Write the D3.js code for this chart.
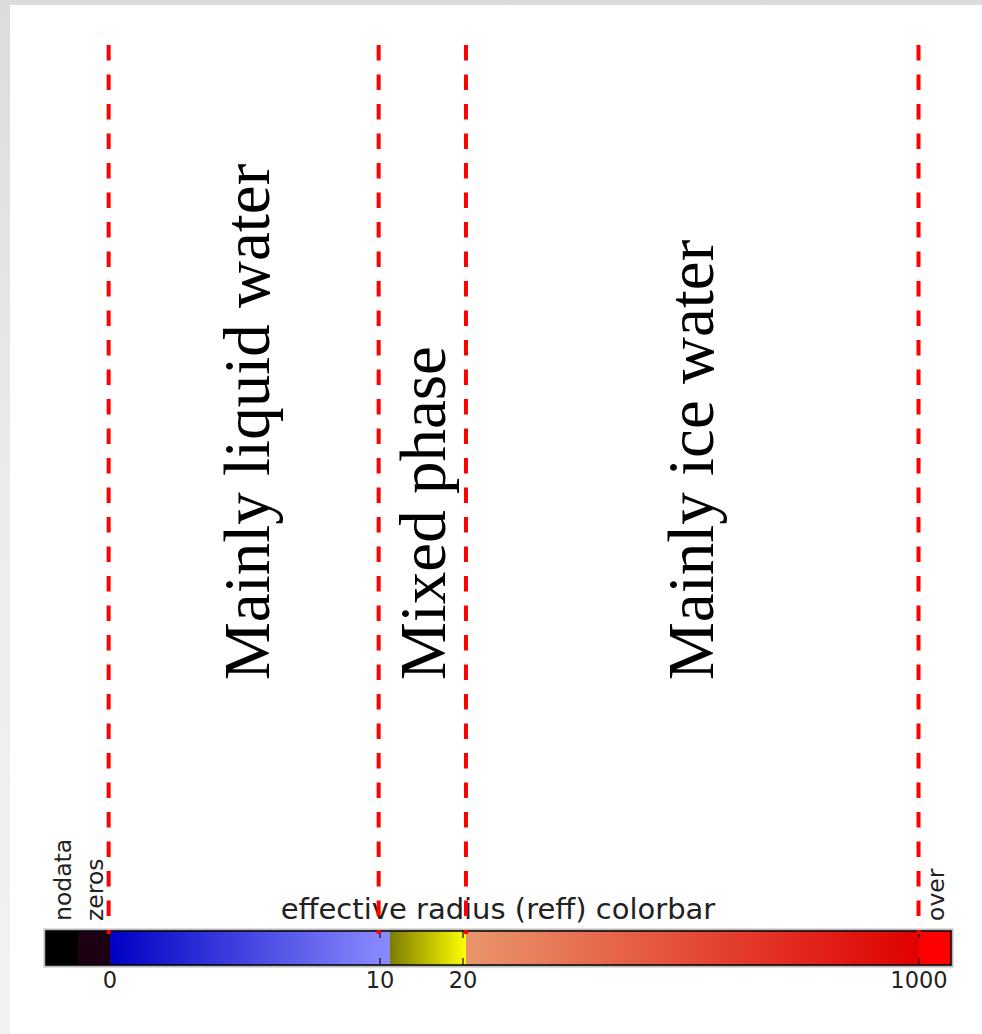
<!DOCTYPE html>
<html>
<head>
<meta charset="utf-8">
<script src="https://cdn.jsdelivr.net/npm/d3@7"></script>
<style>
    html, body { margin: 0; padding: 0; background: #e3e3e3; }
    svg { display: block; }
</style>
</head>
<body>
<svg id="chart"></svg>
<script>
// tick values on the colorbar and their labels
const tickValues = [0, 10, 20, 1000];
const tickLabels = ['0', '10', '20', '1000'];

// colour ramps between data values (value -> colour)
const segmentStarts = [0, 11.2, 26.4];
const segmentEnds = [11.2, 26.4, 1000];
const segmentFrom = ['#0000c4', '#7c7c00', '#e8966c'];
const segmentTo = ['#8c8cff', '#ffff00', '#e00000'];

// special bins drawn outside the ramp
const lowSpecials = ['nodata', 'zeros'];
const lowSpecialColors = ['#000000', '#1c0014'];
const highSpecials = ['over'];
const highSpecialColors = ['#ff0000'];

// phase boundaries (dashed red lines) and phase labels
const boundaryValues = [-0.05, 9.95, 26.4, 999];
const phaseLabels = ['Mainly liquid water', 'Mixed phase', 'Mainly ice water'];
const phaseLabelValues = [5.9, 17.8, 557];

const colorbarTitle = 'effective radius (reff) colorbar';

class ReffColorbar {
    constructor() {
        this.width = 982;
        this.height = 1034;
        this.svg = d3.select('#chart')
            .attr('width', this.width)
            .attr('height', this.height);

        this.bar = { left: 46, right: 951, top: 931, bottom: 965 };
        this.slot = 32;

        // piecewise scale, the colorbar is not linear in value
        this.x = d3.scaleLinear()
            .domain(tickValues)
            .range([110, 380, 463, 919]);

        this.draw();
    }

    draw() {
        const svg = this.svg;

        // soft gray frame round the white panel
        const defs = svg.append('defs');
        const frame = defs.append('linearGradient')
            .attr('id', 'frame')
            .attr('x1', 0).attr('y1', 0).attr('x2', 0).attr('y2', 1);
        frame.append('stop').attr('offset', '0%').attr('stop-color', '#dcdcdc');
        frame.append('stop').attr('offset', '50%').attr('stop-color', '#ececec');
        frame.append('stop').attr('offset', '100%').attr('stop-color', '#f2f2f2');

        svg.append('rect')
            .attr('width', this.width)
            .attr('height', this.height)
            .attr('fill', 'url(#frame)');
        svg.append('rect')
            .attr('x', 10).attr('y', 5)
            .attr('width', this.width - 10)
            .attr('height', this.height - 5)
            .attr('fill', '#ffffff');

        // gradients for each ramp segment
        segmentStarts.forEach((s, i) => {
            const g = defs.append('linearGradient')
                .attr('id', 'seg' + i)
                .attr('x1', 0).attr('y1', 0).attr('x2', 1).attr('y2', 0);
            g.append('stop').attr('offset', '0%').attr('stop-color', segmentFrom[i]);
            g.append('stop').attr('offset', '100%').attr('stop-color', segmentTo[i]);
        });

        const b = this.bar;
        const barH = b.bottom - b.top;

        // shadow under the bar outline
        svg.append('rect')
            .attr('x', b.left - 1).attr('y', b.top - 1)
            .attr('width', b.right - b.left + 2)
            .attr('height', barH + 2)
            .attr('fill', 'none')
            .attr('stroke', '#bbbbbb')
            .attr('stroke-width', 3);

        const lowX0 = this.x(0) - lowSpecials.length * this.slot;
        svg.append('g')
            .selectAll('rect')
            .data(lowSpecials)
            .enter()
            .append('rect')
            .attr('x', (d, i) => lowX0 + i * this.slot)
            .attr('y', b.top)
            .attr('width', this.slot)
            .attr('height', barH)
            .attr('fill', (d, i) => lowSpecialColors[i]);

        svg.append('g')
            .selectAll('rect')
            .data(segmentStarts)
            .enter()
            .append('rect')
            .attr('x', d => this.x(d))
            .attr('y', b.top)
            .attr('width', (d, i) => this.x(segmentEnds[i]) - this.x(d) + 0.5)
            .attr('height', barH)
            .attr('fill', (d, i) => `url(#seg${i})`);

        const highX0 = this.x(1000);
        svg.append('g')
            .selectAll('rect')
            .data(highSpecials)
            .enter()
            .append('rect')
            .attr('x', (d, i) => highX0 + i * this.slot)
            .attr('y', b.top)
            .attr('width', this.slot)
            .attr('height', barH)
            .attr('fill', (d, i) => highSpecialColors[i]);

        svg.append('rect')
            .attr('x', b.left).attr('y', b.top)
            .attr('width', b.right - b.left)
            .attr('height', barH)
            .attr('fill', 'none')
            .attr('stroke', '#000')
            .attr('stroke-width', 1.5);

        // ticks inside the bar, top and bottom
        const ticks = svg.append('g');
        tickValues.forEach(v => {
            ticks.append('line')
                .attr('x1', this.x(v)).attr('x2', this.x(v))
                .attr('y1', b.top).attr('y2', b.top + 7)
                .attr('stroke', '#1a1a1a').attr('stroke-width', 1.3);
            ticks.append('line')
                .attr('x1', this.x(v)).attr('x2', this.x(v))
                .attr('y1', b.bottom - 7).attr('y2', b.bottom)
                .attr('stroke', '#1a1a1a').attr('stroke-width', 1.3);
        });

        svg.append('g')
            .selectAll('text')
            .data(tickValues)
            .enter()
            .append('text')
            .attr('x', d => this.x(d))
            .attr('y', 988)
            .attr('text-anchor', 'middle')
            .attr('font-family', 'DejaVu Sans, sans-serif')
            .attr('font-size', 22.5)
            .attr('fill', '#222')
            .text((d, i) => tickLabels[i]);

        // rotated special labels
        const specialNames = lowSpecials.concat(highSpecials);
        const specialX = lowSpecials.map((d, i) => lowX0 + i * this.slot + this.slot / 2)
            .concat(highSpecials.map((d, i) => highX0 + i * this.slot + this.slot / 2));
        svg.append('g')
            .selectAll('text')
            .data(specialNames)
            .enter()
            .append('text')
            .attr('transform', (d, i) => `translate(${specialX[i] + 9},921) rotate(-90)`)
            .attr('font-family', 'DejaVu Sans, sans-serif')
            .attr('font-size', 23.5)
            .attr('fill', '#222')
            .text(d => d);

        svg.append('text')
            .attr('x', 498)
            .attr('y', 919)
            .attr('text-anchor', 'middle')
            .attr('font-family', 'DejaVu Sans, sans-serif')
            .attr('font-size', 29)
            .attr('fill', '#222')
            .text(colorbarTitle);

        // dashed phase boundaries
        svg.append('g')
            .selectAll('line')
            .data(boundaryValues)
            .enter()
            .append('line')
            .attr('x1', d => this.x(d))
            .attr('x2', d => this.x(d))
            .attr('y1', 45)
            .attr('y2', b.top + 3)
            .attr('stroke', '#ff0000')
            .attr('stroke-width', 4)
            .attr('stroke-dasharray', '15.5,14');

        // phase labels
        svg.append('g')
            .selectAll('text')
            .data(phaseLabels)
            .enter()
            .append('text')
            .attr('transform', (d, i) => `translate(${this.x(phaseLabelValues[i])},680) rotate(-90)`)
            .attr('font-family', 'Liberation Serif, Times New Roman, serif')
            .attr('font-size', 65)
            .attr('fill', '#000')
            .text(d => d);
    }
}

document.addEventListener('DOMContentLoaded', () => {
    new ReffColorbar();
});
</script>
</body>
</html>
